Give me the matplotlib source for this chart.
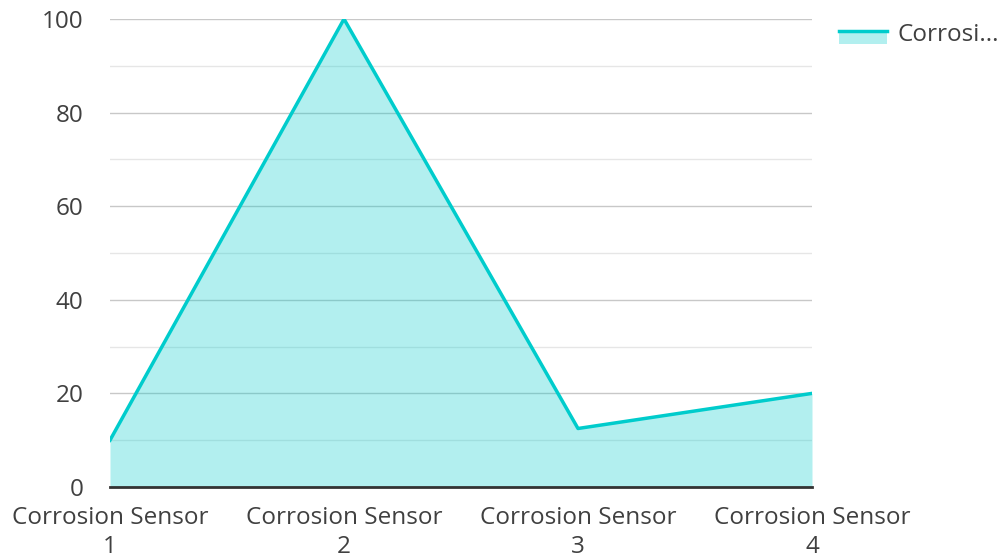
import numpy as np
import matplotlib.pyplot as plt
from matplotlib.patches import Rectangle
from matplotlib.lines import Line2D

plt.rcParams['font.family'] = ['Open Sans', 'DejaVu Sans']

# data
categories = ['Corrosion Sensor\n1', 'Corrosion Sensor\n2', 'Corrosion Sensor\n3', 'Corrosion Sensor\n4']
values = [10, 100, 12.5, 20]
series_name = 'Corrosi...'

line_color = '#00cccc'
text_color = '#404040'
fs = 17.5


class AreaHandler:
    # filled box with the line drawn along its top edge
    def legend_artist(self, legend, orig_handle, fontsize, handlebox):
        x0, y0 = handlebox.xdescent, handlebox.ydescent
        w, h = handlebox.width, handlebox.height
        box = Rectangle((x0, y0 - 0.1 * h), w, h * 0.9, facecolor=line_color, alpha=0.3,
                        edgecolor='none', transform=handlebox.get_transform())
        ln = Line2D([x0, x0 + w], [y0 + 0.75 * h, y0 + 0.75 * h], color=line_color,
                    linewidth=2.5, transform=handlebox.get_transform())
        handlebox.add_artist(box)
        handlebox.add_artist(ln)
        return box


fig = plt.figure(figsize=(10.02, 5.59), dpi=100)
ax = fig.add_axes([110/1002, 1 - 487/559, 702/1002, 468/559])

x = np.arange(len(categories))
# fill sits on top of the grid so the lines show through tinted
ax.fill_between(x, values, 0, color=line_color, alpha=0.3, linewidth=0, zorder=2.5)
line, = ax.plot(x, values, color=line_color, linewidth=2.5, zorder=3)

ax.set_xlim(0, len(categories) - 1)
ax.set_ylim(0, 100)
ax.set_yticks([0, 20, 40, 60, 80, 100])
ax.set_yticks([10, 30, 50, 70, 90], minor=True)
ax.grid(axis='y', which='major', color='#c8c8c8', linewidth=1, zorder=1)
ax.grid(axis='y', which='minor', color='#e6e6e6', linewidth=1, zorder=1)
ax.set_axisbelow(True)

ax.set_xticks(x)
ax.set_xticklabels(categories, fontsize=fs, color=text_color, linespacing=1.25)
ax.tick_params(axis='y', which='both', length=0, labelsize=fs, labelcolor=text_color, pad=19)
ax.tick_params(axis='x', length=0, pad=14)

for s in ['top', 'right', 'left']:
    ax.spines[s].set_visible(False)
ax.spines['bottom'].set_color('#333333')
ax.spines['bottom'].set_linewidth(2)
ax.spines['bottom'].set_zorder(4)

leg = fig.legend([line], [series_name], loc='upper left', bbox_to_anchor=(817/1002, 1 - 1/559),
                 frameon=False, fontsize=fs, handlelength=2.0, handleheight=0.55,
                 handletextpad=0.4, handler_map={line: AreaHandler()})
for t in leg.get_texts():
    t.set_color(text_color)

plt.savefig('out.png', dpi=100)
